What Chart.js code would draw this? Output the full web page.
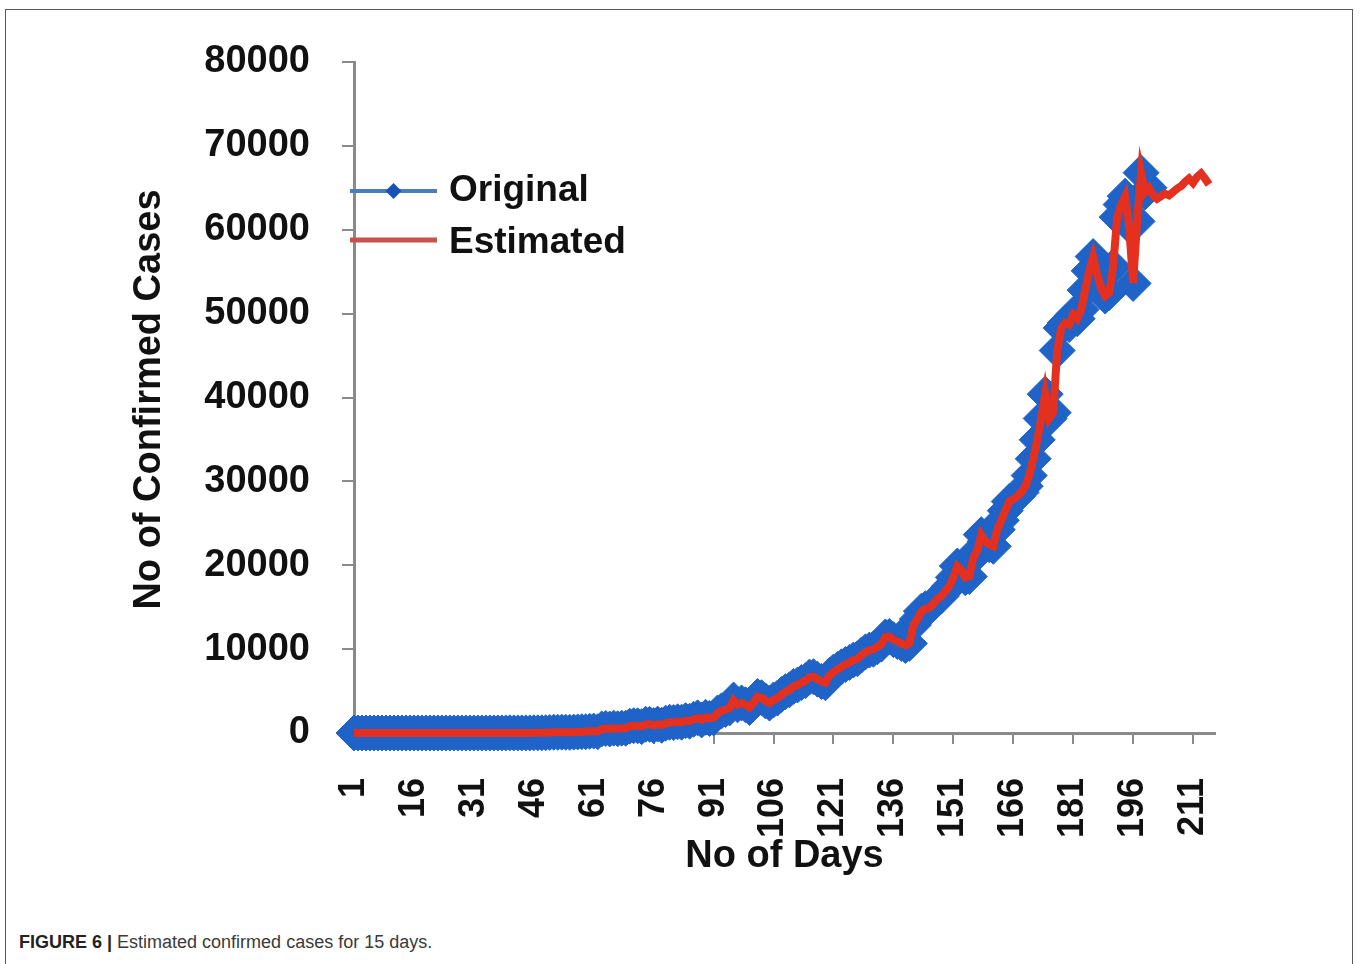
<!DOCTYPE html>
<html>
<head>
<meta charset="utf-8">
<title>Estimated confirmed cases</title>
<script src="https://cdn.jsdelivr.net/npm/chart.js@4.4.1/dist/chart.umd.min.js"></script>
<style>
  html, body { margin: 0; padding: 0; background: #fff; }
  body { width: 1360px; height: 964px; position: relative; overflow: hidden; }
  #frame { position: absolute; left: 5px; top: 9px; width: 1348px; height: 1000px; border: 1.5px solid #5a5a5a; box-sizing: border-box; }
  #chart { position: absolute; left: 0; top: 0; }
  #caption { position: absolute; left: 19px; top: 932px; font: 18px "Liberation Sans", Arial, sans-serif; color: #3a3a3a; }
  #caption b { color: #222; }
</style>
</head>
<body>
<div id="frame"></div>
<canvas id="chart" width="1360" height="900"></canvas>
<div id="caption"><b>FIGURE 6 |</b> Estimated confirmed cases for 15 days.</div>
<script>
// series names + axis text
const seriesNames = ['Original', 'Estimated'];
const xTitle = 'No of Days';
const yTitle = 'No of Confirmed Cases';

// x tick labels (day numbers shown on the axis)
const xTickValues = [1, 16, 31, 46, 61, 76, 91, 106, 121, 136, 151, 166, 181, 196, 211];

// original daily counts, day 1..200
const original = [
  1, 0, 1, 1, 0, 0, 0, 0, 0, 0,
  0, 0, 0, 0, 0, 0, 0, 0, 0, 0,
  0, 0, 0, 0, 0, 0, 0, 0, 0, 0,
  0, 0, 0, 0, 2, 1, 3, 5, 9, 15,
  8, 10, 8, 13, 14, 23, 22, 17, 40, 64,
  88, 75, 103, 86, 75, 108, 126, 153, 152, 200,
  227, 146, 480, 545, 478, 578, 505, 573, 565, 813,
  871, 854, 758, 1043, 1031, 886, 1061, 922, 1171, 1280,
  1239, 1337, 1292, 1467, 1408, 1635, 1807, 1561, 1873, 1738,
  1801, 2394, 2642, 2806, 2987, 3932, 3363, 3587, 3364, 3044,
  3613, 4353, 4207, 3824, 3563, 3942, 4164, 4587, 4930, 5147,
  5553, 5720, 6023, 6236, 6667, 6711, 6414, 6135, 5987, 6866,
  7264, 7580, 7892, 8171, 8409, 8704, 8851, 9287, 9671, 9883,
  9987, 10285, 10596, 11458, 11502, 11129, 10902, 10667, 10432, 10681,
  12881, 13586, 14516, 14821, 14933, 15413, 15968, 16322, 16922, 17496,
  18552, 19906, 19459, 18522, 18653, 20903, 21771, 23650, 22852, 22452,
  22252, 24248, 25350, 26506, 27600, 27900, 28200, 28701, 29429, 30695,
  32695, 34956, 37500, 40400, 37500, 38200, 45600, 48300, 48900, 48700,
  49900, 49400, 50500, 52800, 55100, 56800, 54700, 53000, 52100, 52500,
  55600, 61500, 63000, 64000, 60500, 53600, 61000, 66800, 64500, 65000
];

// estimated counts, day 1..215 (last 15 days are the forecast)
const estimated = [
  0, 0, 0, 0, 0, 0, 0, 0, 0, 0,
  0, 0, 0, 0, 0, 0, 0, 0, 0, 0,
  0, 0, 0, 0, 0, 0, 0, 0, 0, 0,
  0, 0, 0, 0, 0, 0, 0, 0, 10, 10,
  10, 10, 10, 10, 10, 20, 20, 20, 40, 60,
  80, 80, 100, 90, 80, 100, 120, 150, 150, 200,
  220, 180, 450, 530, 490, 570, 520, 570, 570, 790,
  860, 850, 780, 1020, 1030, 900, 1040, 950, 1150, 1270,
  1250, 1330, 1300, 1450, 1420, 1620, 1780, 1580, 1850, 1750,
  1820, 2360, 2630, 2790, 2980, 3880, 3380, 3570, 3370, 3070,
  3600, 4320, 4200, 3840, 3580, 3930, 4170, 4570, 4910, 5140,
  5540, 5710, 6010, 6230, 6650, 6700, 6420, 6150, 6000, 6850,
  7250, 7570, 7880, 8160, 8400, 8690, 8850, 9270, 9650, 9870,
  9980, 10270, 10580, 11430, 11490, 11130, 10910, 10680, 10450, 10690,
  12840, 13560, 14490, 14810, 14930, 15400, 15950, 16310, 16900, 17470,
  18530, 19870, 19450, 18530, 18670, 20870, 21750, 23610, 22850, 22460,
  22270, 24220, 25330, 26480, 27580, 27890, 28200, 28690, 29410, 30670,
  32660, 34920, 37460, 40350, 37520, 38220, 45540, 48260, 48870, 48690,
  49870, 49400, 50490, 52770, 55060, 56750, 54680, 53010, 52110, 52490,
  55560, 61440, 62970, 63960, 60490, 53640, 60960, 66740, 64480, 64960,
  64100, 63700, 64000, 64300, 64100, 64500, 64900, 65200, 65700, 66100,
  65600, 66300, 66700, 66100, 65400
];

const toXY = arr => arr.map((v, i) => ({ x: i + 1, y: v }));

const BLUE = '#1f63c8';
const RED = '#e3301f';
const AXIS = '#8a8a8a';
const FONT = '"Liberation Sans", Arial, sans-serif';

// legend + axis titles drawn over the chart
const overlay = {
  id: 'overlay',
  afterDraw(chart) {
    const { ctx, chartArea: a } = chart;
    ctx.save();
    ctx.fillStyle = '#111';
    ctx.font = 'bold 38px ' + FONT;
    ctx.textAlign = 'center';
    ctx.textBaseline = 'middle';
    ctx.fillText(xTitle, (a.left + a.right) / 2, a.bottom + 124);

    ctx.save();
    ctx.translate(150, (a.top + a.bottom) / 2 + 2);
    ctx.rotate(-Math.PI / 2);
    ctx.fillText(yTitle, 0, 0);
    ctx.restore();

    // legend
    const lx0 = a.left - 4, lx1 = a.left + 83;
    const rows = [a.top + 129, a.top + 178];
    ctx.lineCap = 'butt';
    ctx.strokeStyle = '#4a7ebb';
    ctx.lineWidth = 4;
    ctx.beginPath(); ctx.moveTo(lx0, rows[0]); ctx.lineTo(lx1, rows[0]); ctx.stroke();
    const cx = (lx0 + lx1) / 2, r = 8;
    ctx.fillStyle = '#1652b8';
    ctx.beginPath();
    ctx.moveTo(cx - r, rows[0]); ctx.lineTo(cx, rows[0] - r);
    ctx.lineTo(cx + r, rows[0]); ctx.lineTo(cx, rows[0] + r);
    ctx.closePath(); ctx.fill();
    ctx.strokeStyle = '#c8504d';
    ctx.lineWidth = 5;
    ctx.beginPath(); ctx.moveTo(lx0, rows[1]); ctx.lineTo(lx1, rows[1]); ctx.stroke();

    ctx.fillStyle = '#111';
    ctx.font = 'bold 37px ' + FONT;
    ctx.textAlign = 'left';
    ctx.fillText(seriesNames[0], lx1 + 12, rows[0]);
    ctx.fillText(seriesNames[1], lx1 + 12, rows[1] + 3);
    ctx.restore();
  }
};

new Chart(document.getElementById('chart'), {
  type: 'line',
  data: {
    datasets: [
      {
        label: seriesNames[0],
        data: toXY(original),
        order: 2,
        borderColor: BLUE,
        borderWidth: 6,
        pointStyle: 'rectRot',
        pointRadius: 18,
        pointBackgroundColor: BLUE,
        pointBorderColor: BLUE,
        pointBorderWidth: 1,
        tension: 0,
        clip: false
      },
      {
        label: seriesNames[1],
        data: toXY(estimated),
        order: 1,
        borderColor: RED,
        borderWidth: 8,
        pointRadius: 0,
        tension: 0,
        clip: false
      }
    ]
  },
  plugins: [overlay],
  options: {
    responsive: false,
    animation: false,
    layout: { padding: { top: 62, right: 145, left: 0, bottom: 0 } },
    plugins: {
      legend: { display: false },
      tooltip: { enabled: false }
    },
    scales: {
      x: {
        type: 'linear',
        min: 1,
        max: 216.5,
        afterFit: s => { s.height = 167; },
        afterBuildTicks: s => { s.ticks = xTickValues.map(v => ({ value: v })); },
        grid: { drawOnChartArea: false, drawTicks: true, tickLength: 11, color: AXIS, lineWidth: 2 },
        border: { display: true, color: AXIS, width: 3 },
        ticks: {
          autoSkip: false,
          minRotation: 90,
          maxRotation: 90,
          padding: 34,
          color: '#111',
          font: { family: FONT, size: 36, weight: 'bold' },
          callback: v => String(v)
        }
      },
      y: {
        min: 0,
        max: 80000,
        afterFit: s => { s.width = 354; },
        grid: { drawOnChartArea: false, drawTicks: true, tickLength: 12, color: AXIS, lineWidth: 2 },
        border: { display: true, color: AXIS, width: 3 },
        ticks: {
          stepSize: 10000,
          padding: 32,
          color: '#111',
          font: { family: FONT, size: 38, weight: 'bold' },
          callback: v => String(v)
        }
      }
    }
  }
});
</script>
</body>
</html>
